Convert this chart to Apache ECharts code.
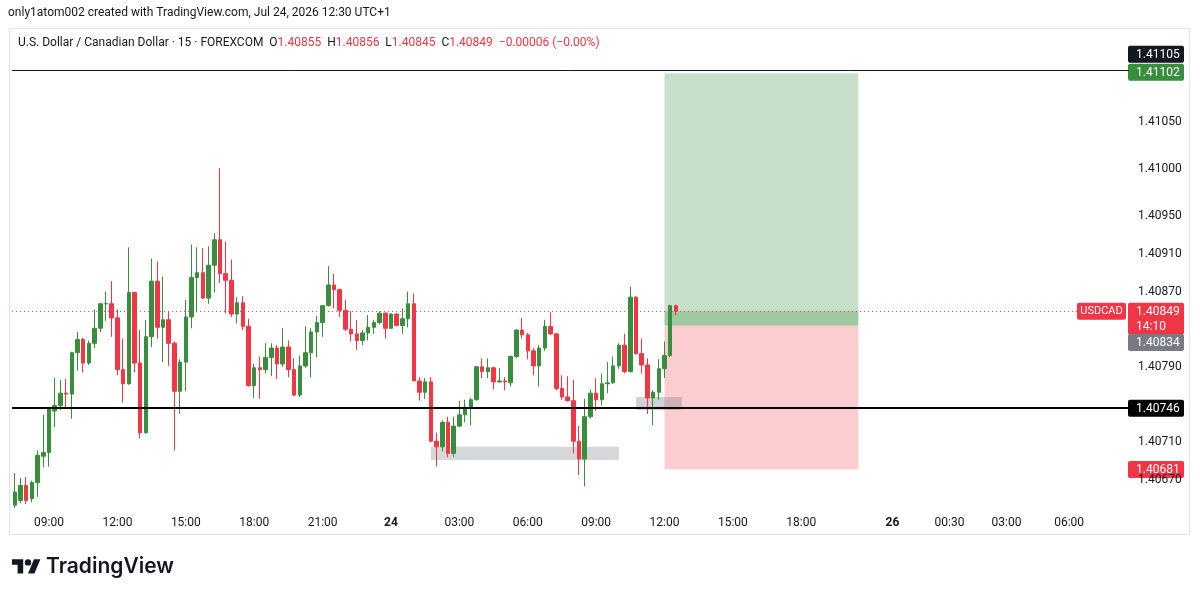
<!DOCTYPE html>
<html>
<head>
<meta charset="utf-8">
<title>USDCAD 15</title>
<script src="https://cdn.jsdelivr.net/npm/echarts@6/dist/echarts.min.js"></script>
<style>
html, body { margin: 0; padding: 0; background: #fff; }
#chart { width: 1200px; height: 596px; }
</style>
</head>
<body>
<div id="chart"></div>
<script>
'use strict';

// 15m bars, Jul 23 07:30 -> Jul 24 12:30 (UTC+1)
var opens = [
    1.40643, 1.40648, 1.40664, 1.40650, 1.40667, 1.40695, 1.40699, 1.40743, 1.40749, 1.40762,
    1.40761, 1.40805, 1.40819, 1.40794, 1.40815, 1.40831, 1.40857, 1.40857, 1.40842, 1.40787,
    1.40772, 1.40869, 1.40794, 1.40720, 1.40822, 1.40881, 1.40832, 1.40840, 1.40815, 1.40764,
    1.40795, 1.40843, 1.40885, 1.40890, 1.40863, 1.40898, 1.40925, 1.40889, 1.40882, 1.40846,
    1.40858, 1.40833, 1.40770, 1.40789, 1.40787, 1.40800, 1.40810, 1.40793, 1.40811, 1.40787,
    1.40760, 1.40791, 1.40805, 1.40827, 1.40837, 1.40855, 1.40877, 1.40872, 1.40850, 1.40830,
    1.40825, 1.40818, 1.40826, 1.40832, 1.40837, 1.40847, 1.40831, 1.40846, 1.40834, 1.40841,
    1.40857, 1.40775, 1.40763, 1.40774, 1.40711, 1.40705, 1.40731, 1.40698, 1.40727, 1.40739,
    1.40747, 1.40755, 1.40790, 1.40785, 1.40789, 1.40774, 1.40775, 1.40773, 1.40801, 1.40829,
    1.40824, 1.40807, 1.40791, 1.40810, 1.40833, 1.40825, 1.40767, 1.40758, 1.40754, 1.40711,
    1.40692, 1.40737, 1.40762, 1.40755, 1.40772, 1.40773, 1.40791, 1.40813, 1.40785, 1.40864,
    1.40804, 1.40792, 1.40757, 1.40763, 1.40788, 1.40802, 1.40855
];
var highs = [
    1.40677, 1.40672, 1.40673, 1.40669, 1.40701, 1.40739, 1.40747, 1.40778, 1.40776, 1.40777,
    1.40806, 1.40827, 1.40821, 1.40818, 1.40851, 1.40858, 1.40870, 1.40881, 1.40851, 1.40820,
    1.40917, 1.40870, 1.40829, 1.40840, 1.40905, 1.40902, 1.40886, 1.40849, 1.40817, 1.40798,
    1.40861, 1.40920, 1.40917, 1.40916, 1.40918, 1.40932, 1.41001, 1.40923, 1.40904, 1.40864,
    1.40865, 1.40841, 1.40793, 1.40801, 1.40815, 1.40815, 1.40813, 1.40831, 1.40818, 1.40799,
    1.40802, 1.40833, 1.40831, 1.40844, 1.40856, 1.40897, 1.40889, 1.40873, 1.40861, 1.40849,
    1.40840, 1.40829, 1.40845, 1.40840, 1.40849, 1.40848, 1.40847, 1.40847, 1.40852, 1.40870,
    1.40868, 1.40779, 1.40778, 1.40779, 1.40720, 1.40733, 1.40737, 1.40737, 1.40754, 1.40755,
    1.40757, 1.40791, 1.40799, 1.40799, 1.40790, 1.40789, 1.40779, 1.40802, 1.40830, 1.40842,
    1.40826, 1.40810, 1.40813, 1.40840, 1.40848, 1.40826, 1.40781, 1.40780, 1.40776, 1.40727,
    1.40756, 1.40766, 1.40778, 1.40783, 1.40795, 1.40801, 1.40815, 1.40825, 1.40875, 1.40865,
    1.40820, 1.40799, 1.40765, 1.40798, 1.40817, 1.40856, 1.40856
];
var lows = [
    1.40640, 1.40645, 1.40644, 1.40646, 1.40652, 1.40683, 1.40684, 1.40726, 1.40744, 1.40747,
    1.40735, 1.40786, 1.40784, 1.40792, 1.40810, 1.40827, 1.40839, 1.40822, 1.40781, 1.40752,
    1.40771, 1.40784, 1.40714, 1.40719, 1.40811, 1.40820, 1.40795, 1.40791, 1.40701, 1.40740,
    1.40764, 1.40831, 1.40848, 1.40862, 1.40857, 1.40869, 1.40879, 1.40847, 1.40843, 1.40836,
    1.40829, 1.40769, 1.40757, 1.40756, 1.40783, 1.40780, 1.40777, 1.40790, 1.40779, 1.40759,
    1.40758, 1.40789, 1.40779, 1.40800, 1.40822, 1.40854, 1.40852, 1.40843, 1.40828, 1.40817,
    1.40808, 1.40813, 1.40818, 1.40825, 1.40835, 1.40820, 1.40830, 1.40833, 1.40825, 1.40832,
    1.40775, 1.40754, 1.40756, 1.40710, 1.40684, 1.40700, 1.40694, 1.40694, 1.40726, 1.40731,
    1.40728, 1.40754, 1.40778, 1.40778, 1.40766, 1.40773, 1.40765, 1.40769, 1.40799, 1.40820,
    1.40798, 1.40781, 1.40769, 1.40807, 1.40824, 1.40765, 1.40755, 1.40753, 1.40698, 1.40675,
    1.40663, 1.40735, 1.40743, 1.40749, 1.40762, 1.40772, 1.40788, 1.40783, 1.40784, 1.40803,
    1.40783, 1.40740, 1.40728, 1.40755, 1.40778, 1.40800, 1.40845
];
var closes = [
    1.40657, 1.40664, 1.40648, 1.40667, 1.40696, 1.40699, 1.40746, 1.40749, 1.40762, 1.40761,
    1.40805, 1.40819, 1.40794, 1.40815, 1.40831, 1.40857, 1.40857, 1.40842, 1.40787, 1.40772,
    1.40869, 1.40794, 1.40720, 1.40822, 1.40881, 1.40832, 1.40840, 1.40815, 1.40764, 1.40795,
    1.40843, 1.40885, 1.40890, 1.40863, 1.40898, 1.40925, 1.40889, 1.40882, 1.40846, 1.40858,
    1.40833, 1.40770, 1.40789, 1.40787, 1.40800, 1.40810, 1.40793, 1.40811, 1.40787, 1.40760,
    1.40791, 1.40805, 1.40827, 1.40837, 1.40855, 1.40877, 1.40872, 1.40850, 1.40830, 1.40825,
    1.40818, 1.40826, 1.40832, 1.40837, 1.40847, 1.40831, 1.40846, 1.40834, 1.40841, 1.40857,
    1.40775, 1.40763, 1.40774, 1.40711, 1.40705, 1.40731, 1.40698, 1.40727, 1.40739, 1.40747,
    1.40755, 1.40790, 1.40785, 1.40789, 1.40774, 1.40775, 1.40774, 1.40801, 1.40829, 1.40824,
    1.40807, 1.40791, 1.40810, 1.40833, 1.40825, 1.40767, 1.40758, 1.40754, 1.40711, 1.40692,
    1.40737, 1.40762, 1.40755, 1.40772, 1.40773, 1.40791, 1.40813, 1.40785, 1.40864, 1.40804,
    1.40792, 1.40757, 1.40763, 1.40788, 1.40802, 1.40855, 1.40849
];

// time scale: slots of 15m incl. the empty future area
var slotCount = 196;
var tickIndex = [6, 18, 30, 42, 54, 66, 78, 90, 102, 114, 126, 138, 154, 164, 174, 185];
var tickText = ['09:00', '12:00', '15:00', '18:00', '21:00', '24', '03:00', '06:00',
    '09:00', '12:00', '15:00', '18:00', '26', '00:30', '03:00', '06:00'];
var dayTicks = ['24', '26'];

var priceTicks = [1.40670, 1.40710, 1.40790, 1.40870, 1.40910, 1.40950, 1.41000, 1.41050];

// drawings
var levelTop = 1.41105;
var levelSupport = 1.40746;
var lastPrice = 1.40849;
var target = 1.41102;
var entry = 1.40834;
var stop = 1.40681;
var positionBars = [114, 148];
var zoneLowBars = [73, 106];
var zoneLowPrices = [1.40691, 1.40705];
var zoneHighBars = [109, 117];
var zoneHighPrices = [1.40744, 1.40758];

var upColor = '#388e3c';
var downColor = '#f23645';
var textColor = '#131722';
var font = 'Roboto, "Open Sans", sans-serif';

var categories = [];
for (var i = 0; i < slotCount; i++) {
    categories.push(String(i));
}
var candles = opens.map(function (o, i) {
    return [o, closes[i], lows[i], highs[i]];
});

var myChart = echarts.init(document.getElementById('chart'), null, { renderer: 'canvas' });

var option = {
    animation: false,
    backgroundColor: '#ffffff',
    textStyle: { fontFamily: font },
    grid: { left: 12, right: 71, top: 28, bottom: 88 },
    xAxis: {
        type: 'category',
        data: categories,
        boundaryGap: true,
        axisLine: { show: false },
        axisTick: { show: false },
        splitLine: { show: false },
        axisLabel: {
            interval: 0,
            margin: 9,
            color: textColor,
            fontSize: 12,
            formatter: function (value, idx) {
                var k = tickIndex.indexOf(idx);
                if (k < 0) {
                    return '';
                }
                var t = tickText[k];
                return dayTicks.indexOf(t) >= 0 ? '{day|' + t + '}' : t;
            },
            rich: {
                day: { fontWeight: 'bold', fontSize: 12, color: textColor, fontFamily: font }
            }
        }
    },
    yAxis: {
        type: 'value',
        position: 'right',
        min: 1.4064,
        max: 1.4115,
        scale: true,
        axisLine: { show: false },
        axisTick: { show: false },
        splitLine: { show: false },
        axisLabel: {
            customValues: priceTicks,
            margin: 9,
            color: textColor,
            fontSize: 12,
            formatter: function (v) {
                return v.toFixed(5);
            }
        }
    },
    series: [{
        name: 'USDCAD',
        type: 'candlestick',
        data: candles,
        barWidth: 4,
        itemStyle: {
            color: upColor,
            color0: downColor,
            borderColor: upColor,
            borderColor0: downColor,
            borderWidth: 1
        },
        markArea: {
            silent: true,
            data: [
                [{ xAxis: positionBars[0], yAxis: entry, itemStyle: { color: 'rgba(56,142,60,0.28)' } },
                 { xAxis: positionBars[1], yAxis: target }],
                [{ xAxis: positionBars[0], yAxis: entry, itemStyle: { color: 'rgba(56,142,60,0.28)' } },
                 { xAxis: positionBars[1], yAxis: lastPrice }],
                [{ xAxis: positionBars[0], yAxis: stop, itemStyle: { color: 'rgba(242,54,69,0.25)' } },
                 { xAxis: positionBars[1], yAxis: entry }],
                [{ xAxis: zoneLowBars[0], yAxis: zoneLowPrices[0], itemStyle: { color: 'rgba(120,123,134,0.3)' } },
                 { xAxis: zoneLowBars[1], yAxis: zoneLowPrices[1] }],
                [{ xAxis: zoneHighBars[0], yAxis: zoneHighPrices[0], itemStyle: { color: 'rgba(120,123,134,0.35)' } },
                 { xAxis: zoneHighBars[1], yAxis: zoneHighPrices[1] }]
            ]
        },
        markLine: {
            silent: true,
            precision: 5,
            symbol: ['none', 'none'],
            label: { show: false },
            data: [
                { yAxis: levelTop, lineStyle: { color: textColor, width: 1, type: 'solid' } },
                { yAxis: levelSupport, lineStyle: { color: '#000000', width: 2, type: 'solid' } },
                { yAxis: lastPrice, lineStyle: { color: downColor, width: 1, type: [1, 3], opacity: 0.9 } }
            ]
        }
    }]
};
myChart.setOption(option);

// right price scale tags, placed through the y scale
var py = function (v) {
    return myChart.convertToPixel({ yAxisIndex: 0 }, v);
};
var tag = function (value, lines, bg, dy) {
    var y = py(value) + dy;
    var h = lines.length === 1 ? 17 : 32;
    return {
        type: 'group',
        z: 100,
        children: [{
            type: 'rect',
            shape: { x: 1128, y: y - 8.5, width: 56, height: h, r: 2 },
            style: { fill: bg }
        }, {
            type: 'text',
            style: {
                text: lines.join('\n'),
                x: 1136, y: y - 7,
                fill: '#ffffff',
                font: '12px ' + font,
                lineHeight: 15,
                verticalAlign: 'top'
            }
        }]
    };
};
var yLast = py(lastPrice);

var headerRich = {
    n: { fill: textColor, fontSize: 12, fontFamily: font },
    r: { fill: downColor, fontSize: 12, fontFamily: font }
};
var last = opens.length - 1;
var headerText = '{n|U.S. Dollar / Canadian Dollar · 15 · FOREXCOM}  ' +
    '{n|O}{r|' + opens[last].toFixed(5) + '}  ' +
    '{n|H}{r|' + highs[last].toFixed(5) + '}  ' +
    '{n|L}{r|' + lows[last].toFixed(5) + '}  ' +
    '{n|C}{r|' + closes[last].toFixed(5) + '}  ' +
    '{r|−0.00006 (−0.00%)}';

myChart.setOption({
    graphic: [
        {
            type: 'rect', z: 0, silent: true,
            shape: { x: 9.5, y: 28.5, width: 1180, height: 506 },
            style: { fill: 'none', stroke: '#e0e3eb', lineWidth: 1 }
        },
        {
            type: 'text', z: 100,
            style: {
                text: 'only1atom002 created with TradingView.com, Jul 24, 2026 12:30 UTC+1',
                x: 8, y: 13, fill: textColor, font: '12px ' + font, verticalAlign: 'middle'
            }
        },
        {
            type: 'text', z: 100,
            style: { text: headerText, rich: headerRich, x: 18, y: 43, verticalAlign: 'middle', font: '12px ' + font }
        },
        tag(levelTop, [levelTop.toFixed(5)], textColor, -16),
        tag(target, [target.toFixed(5)], upColor, -1),
        tag(lastPrice, [lastPrice.toFixed(5), '14:10'], downColor, 0),
        tag(entry, [entry.toFixed(5)], '#787b86', 17),
        tag(levelSupport, [levelSupport.toFixed(5)], '#000000', 0),
        tag(stop, [stop.toFixed(5)], downColor, 0),
        {
            type: 'group', z: 100,
            children: [{
                type: 'rect',
                shape: { x: 1077, y: yLast - 8.5, width: 49, height: 17, r: 2 },
                style: { fill: downColor }
            }, {
                type: 'text',
                style: { text: 'USDCAD', x: 1101.5, y: yLast, fill: '#ffffff', font: '11px ' + font, align: 'center', verticalAlign: 'middle' }
            }]
        },
        {
            type: 'group', z: 100,
            x: 12, y: 556, scaleX: 0.8, scaleY: 0.8,
            children: [
                { type: 'polygon', shape: { points: [[0, 4], [14, 4], [14, 22], [7, 22], [7, 11], [0, 11]] }, style: { fill: textColor } },
                { type: 'circle', shape: { cx: 20, cy: 8, r: 4 }, style: { fill: textColor } },
                { type: 'polygon', shape: { points: [[20, 22], [27.5, 4], [35.5, 4], [28, 22]] }, style: { fill: textColor } }
            ]
        },
        {
            type: 'text', z: 100,
            style: { text: 'TradingView', x: 46, y: 567, fill: textColor, font: '600 21px Inter, ' + font, verticalAlign: 'middle' }
        }
    ]
});
</script>
</body>
</html>
